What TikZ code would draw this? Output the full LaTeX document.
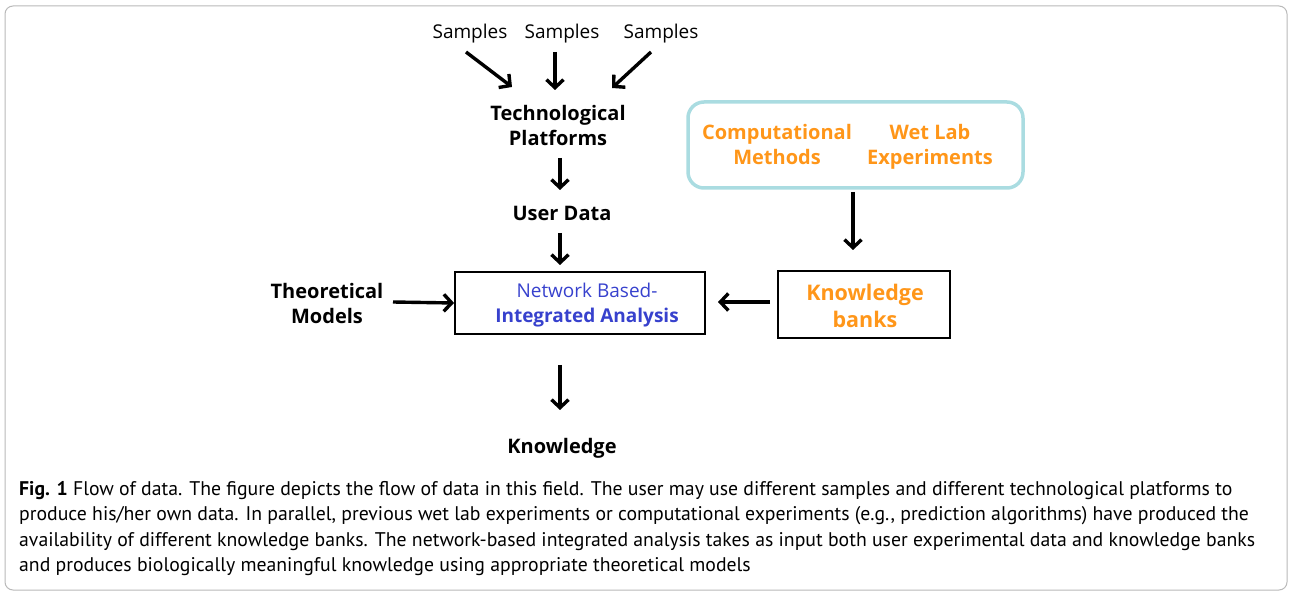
\documentclass[tikz,border=0pt]{standalone}
\usepackage{fontspec}
\setmainfont{Open Sans}
\newfontfamily\capfont{PT Sans}
\usetikzlibrary{arrows.meta}
\definecolor{kborange}{RGB}{255,150,25}
\definecolor{nbblue}{RGB}{55,65,205}
\definecolor{frameteal}{RGB}{170,220,225}
\definecolor{framegray}{RGB}{185,185,185}
\tikzset{
  lbl/.style={font=\fontsize{19}{25}\selectfont, align=center, inner sep=0pt},
  blbl/.style={lbl, font=\fontsize{20}{25}\selectfont\bfseries},
  flow/.style={line width=3.4pt, -{Straight Barb[length=8pt,width=17pt,line width=3.4pt]}},
  boxed/.style={draw=black, line width=1.8pt, minimum height=62pt, inner sep=0pt}
}
\begin{document}
\begin{tikzpicture}[x=1pt,y=-1pt]
\useasboundingbox (0,0) rectangle (1291,593);
\draw[framegray, line width=1pt, rounded corners=8pt] (5,6) rectangle (1287,590);

% sample inputs
\node[lbl] (s1) at (470,34) {Samples};
\node[lbl] (s2) at (562,34) {Samples};
\node[lbl] (s3) at (661,34) {Samples};
\node[blbl] (tp) at (558,126) {Technological\\Platforms};
\coordinate (a1s) at (466,52); \coordinate (a1e) at (512,87);
\coordinate (a2s) at (555,52); \coordinate (a2e) at (555,90);
\coordinate (a3s) at (651,52); \coordinate (a3e) at (612,88);
\draw[flow] (a1s) -- (a1e);
\draw[flow] (a2s) -- (a2e);
\draw[flow] (a3s) -- (a3e);

\node[blbl] (ud) at (562,213) {User Data};
\coordinate (b1s) at (560,158); \coordinate (b1e) at (560,190);
\coordinate (b2s) at (560,233); \coordinate (b2e) at (560,265);
\draw[flow] (b1s) -- (b1e);
\draw[flow] (b2s) -- (b2e);

% central analysis box
\node[boxed, minimum width=250pt] (nb) at (580,303) {};
\node[lbl, text=nbblue] (nbt) at (587,305) {Network Based-\\\textbf{Integrated Analysis}};

\node[blbl] (tm) at (327,304) {Theoretical\\Models};
\coordinate (tms) at (393,302);
\draw[flow] (tms) -- (nb.west);

% knowledge banks
\node[boxed, minimum width=172pt, minimum height=67pt] (kb) at (864,304.5) {};
\node[blbl, text=kborange, font=\fontsize{21.5}{27}\selectfont\bfseries] (kbt) at (865,306) {Knowledge\\banks};
\coordinate (kbs) at (770,302); \coordinate (kbe) at (718,302);
\draw[flow] (kbs) -- (kbe);

% sources of knowledge
\draw[frameteal, line width=3.5pt, rounded corners=16pt] (688,102) rectangle (1023,188);
\node[blbl, text=kborange, anchor=north] (cm) at (777,124) {Computational\\Methods};
\node[blbl, text=kborange, anchor=north] (wl) at (930,124) {Wet Lab\\Experiments};
\coordinate (srcs) at (853,192); \coordinate (srce) at (853,250);
\draw[flow] (srcs) -- (srce);

% output
\coordinate (outs) at (560,365); \coordinate (oute) at (560,410);
\draw[flow] (outs) -- (oute);
\node[blbl] (kn) at (562,448) {Knowledge};

% caption (base anchor sits on the last line's baseline)
\node[anchor=base west, inner sep=0pt, align=left,
      font=\capfont\fontsize{19.75}{25.5}\selectfont] (cap) at (19,571.5)
{\textbf{Fig. 1} Flow of data. The figure depicts the flow of data in this field. The user may use different samples and different technological platforms to\\
produce his/her own data. In parallel, previous wet lab experiments or computational experiments (e.g., prediction algorithms) have produced the\\
availability of different knowledge banks. The network-based integrated analysis takes as input both user experimental data and knowledge banks\\
and produces biologically meaningful knowledge using appropriate theoretical models};
\end{tikzpicture}
\end{document}
